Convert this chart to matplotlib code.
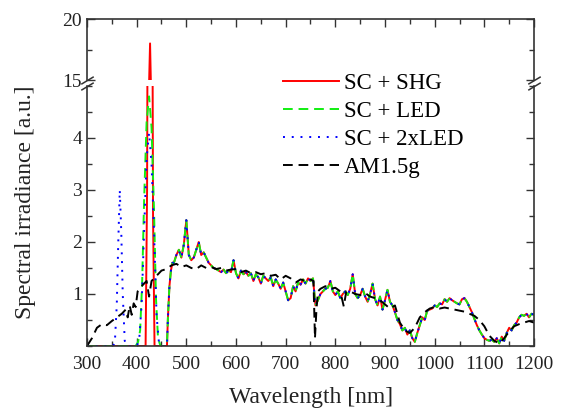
import numpy as np
import matplotlib
matplotlib.use('Agg')
import matplotlib.pyplot as plt
from matplotlib.ticker import MultipleLocator

plt.rcParams['font.family'] = ['Liberation Serif', 'DejaVu Serif']

# common supercontinuum part (all three SC spectra overlap above ~460 nm)
sc_head_wl = [458, 461, 463, 466, 469, 472, 475, 480, 485, 490, 495]
sc_head_val = [0.0, 0.0, 0.55, 1.15, 1.45, 1.6, 1.6, 1.75, 1.85, 1.7, 1.95]
sc_tail_val = [
    2.42, 1.75, 1.65, 1.70, 1.85, 2.00, 1.75, 1.80, 1.70, 1.60,   # 500-545
    1.55, 1.50, 1.48, 1.45, 1.42, 1.47, 1.40, 1.45, 1.42, 1.65,   # 550-595
    1.40, 1.30, 1.45, 1.38, 1.42, 1.35, 1.40, 1.25, 1.38, 1.32,   # 600-645
    1.20, 1.35, 1.30, 1.25, 1.32, 1.15, 1.28, 1.20, 1.10, 1.22,   # 650-695
    1.05, 0.88, 0.92, 1.15, 1.05, 1.22, 1.18, 1.28, 1.20, 1.30,   # 700-745
    1.25, 1.30, 0.78, 0.88, 1.00, 1.05, 1.10, 1.12, 1.25, 1.05,   # 750-795
    0.98, 1.05, 0.92, 1.00, 1.05, 0.98, 1.10, 1.38, 1.00, 0.92,   # 800-845
    0.98, 1.10, 0.95, 0.85, 1.00, 1.20, 0.90, 0.78, 0.95, 0.70,   # 850-895
    0.88, 1.08, 0.85, 0.78, 0.65, 0.50, 0.42, 0.30, 0.35, 0.22,   # 900-945
    0.30, 0.15, 0.08, 0.25, 0.40, 0.55, 0.50, 0.68, 0.70, 0.72,   # 950-995
    0.78, 0.75, 0.82, 0.80, 0.90, 0.85, 0.92, 0.88, 0.85, 0.82,   # 1000-1045
    0.80, 0.90, 0.92, 0.85, 0.75, 0.65, 0.52, 0.40, 0.30, 0.22,   # 1050-1095
    0.15, 0.12, 0.10, 0.12, 0.08, 0.15, 0.05, 0.18, 0.10, 0.25,   # 1100-1145
    0.35, 0.30, 0.40, 0.45, 0.55, 0.60, 0.58, 0.62, 0.55, 0.62,   # 1150-1195
    0.60]                                                          # 1200
sc_tail_wl = np.arange(500, 1201, 5)

# laser / LED parts below 460 nm
shg_wl = [300, 418, 421, 424, 427, 430, 433, 436]
shg_val = [0.0, 0.0, 3.0, 13.0, 18.0, 12.0, 2.5, 0.0]
led_wl = [300, 398, 403, 407, 411, 415, 420, 425, 430, 435, 439, 443, 448]
led_val = [0.0, 0.0, 0.08, 0.3, 1.2, 2.8, 4.3, 4.8, 4.2, 2.6, 0.9, 0.15, 0.0]
led2_wl = [300, 352, 356, 360, 363, 366, 369, 372, 376, 380, 400, 405, 410,
           415, 420, 425, 430, 435, 440, 445, 450]
led2_val = [0.0, 0.0, 0.05, 0.8, 2.0, 3.0, 2.2, 1.0, 0.1, 0.0, 0.0, 0.1, 0.8,
            2.2, 3.6, 4.1, 3.5, 2.2, 0.6, 0.05, 0.0]

am_wl = [300, 310, 320, 330, 340, 350, 360, 370, 378, 382, 386, 390, 394, 398,
         402, 410, 420, 425, 430, 440, 450, 460, 470, 480, 490, 500, 510, 520,
         530, 540, 550, 560, 570, 580, 590, 600, 610, 620, 630, 640, 650, 660,
         670, 680, 690, 700, 710, 720, 730, 740, 750, 756, 759, 762, 765, 770,
         780, 790, 800, 810, 817, 822, 830, 840, 850, 860, 870, 880, 890, 900,
         910, 920, 930, 940, 950, 960, 970, 980, 990, 1000, 1010, 1020, 1030,
         1040, 1050, 1060, 1070, 1080, 1090, 1100, 1110, 1120, 1130, 1140,
         1150, 1160, 1170, 1180, 1190, 1200]
am_val = [0.0, 0.15, 0.35, 0.42, 0.40, 0.48, 0.55, 0.62, 0.70, 0.55, 0.78, 0.60,
          0.82, 0.75, 1.05, 1.15, 1.25, 0.95, 1.25, 1.35, 1.45, 1.48, 1.55, 1.58,
          1.52, 1.55, 1.50, 1.48, 1.55, 1.50, 1.52, 1.48, 1.50, 1.45, 1.47, 1.48,
          1.42, 1.45, 1.40, 1.42, 1.38, 1.40, 1.35, 1.37, 1.28, 1.35, 1.30, 1.22,
          1.28, 1.25, 1.28, 1.25, 0.15, 0.70, 1.05, 1.10, 1.15, 1.10, 1.12, 1.05,
          0.76, 1.05, 1.05, 1.00, 0.98, 1.02, 0.95, 0.92, 0.88, 0.80, 0.72, 0.78,
          0.45, 0.30, 0.25, 0.35, 0.55, 0.65, 0.72, 0.75, 0.72, 0.74, 0.72, 0.70,
          0.68, 0.66, 0.62, 0.58, 0.50, 0.38, 0.20, 0.10, 0.05, 0.15, 0.28, 0.38,
          0.42, 0.45, 0.48, 0.45]

labels = ['SC + SHG', 'SC + LED', 'SC + 2xLED', 'AM1.5g']

wl_common = np.concatenate([sc_head_wl, sc_tail_wl])
val_common = np.concatenate([sc_head_val, sc_tail_val])

def full(wl, val):
    return np.concatenate([wl, wl_common]), np.concatenate([val, val_common])

series = [full(shg_wl, shg_val), full(led_wl, led_val), full(led2_wl, led2_val),
          (np.array(am_wl), np.array(am_val))]
colors = ['#ff0000', '#11ee11', '#0000ff', '#000000']
styles = ['-', (0, (5, 3)), (0, (1, 3.5)), (0, (5, 3))]

fig = plt.figure(figsize=(5.63, 4.12), dpi=100)
ax_hi = fig.add_axes([0.1545, 0.8058, 0.794, 0.148])
ax_lo = fig.add_axes([0.1545, 0.1602, 0.794, 0.6311])

for ax in (ax_hi, ax_lo):
    for (x, y), c, ls, lab in zip(series, colors, styles, labels):
        ax.plot(x, y, color=c, linestyle=ls, lw=1.4, label=lab)
    ax.set_xlim(300, 1200)
    ax.xaxis.set_major_locator(MultipleLocator(100))
    ax.xaxis.set_minor_locator(MultipleLocator(50))
    for s in ax.spines.values():
        s.set_color('#333333')
        s.set_linewidth(1.2)
    ax.tick_params(which='both', direction='in', colors='#333333',
                   labelcolor='#222222', labelsize=14, width=1.0)
    ax.tick_params(which='major', length=6)
    ax.tick_params(which='minor', length=3.5)

ax_hi.set_ylim(15, 20)
ax_hi.set_yticks([15, 20])
ax_hi.yaxis.set_minor_locator(MultipleLocator(2.5))
ax_hi.spines['bottom'].set_visible(False)
ax_hi.tick_params(axis='x', which='both', bottom=False, top=True, labelbottom=False)
ax_hi.tick_params(axis='y', which='both', right=True)

ax_lo.set_ylim(0, 5)
ax_lo.set_yticks([1, 2, 3, 4])
ax_lo.yaxis.set_minor_locator(MultipleLocator(0.5))
ax_lo.spines['top'].set_visible(False)
ax_lo.tick_params(axis='x', which='both', top=False, pad=7)
ax_lo.tick_params(axis='y', which='both', right=True)

# break marks
d = 0.6
kw = dict(marker=[(-1, -d), (1, d)], markersize=9, linestyle='none',
          color='#333333', mec='#333333', mew=1.1, clip_on=False)
ax_hi.plot([0, 1], [0, 0], transform=ax_hi.transAxes, **kw)
ax_lo.plot([0, 1], [1, 1], transform=ax_lo.transAxes, **kw)

handles, labs = ax_lo.get_legend_handles_labels()
fig.legend(handles, labs, loc='upper left', bbox_to_anchor=(0.503, 0.823),
           frameon=False, fontsize=16.5, handlelength=2.45, handletextpad=0.2,
           labelspacing=0.3, borderpad=0, borderaxespad=0)

fig.text(0.045, 0.51, 'Spectral irradiance [a.u.]', rotation=90,
         ha='center', va='center', fontsize=17, color='#222222')
fig.text(0.552, 0.036, 'Wavelength [nm]', ha='center', va='center',
         fontsize=17, color='#222222')

fig.savefig('out.png', dpi=100)
